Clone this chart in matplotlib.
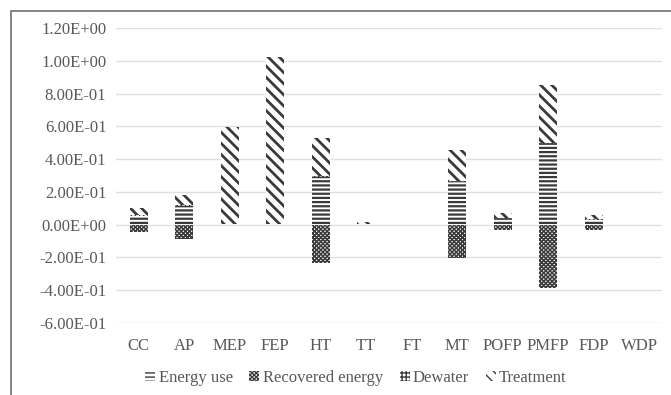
import matplotlib
matplotlib.use('Agg')
import matplotlib.pyplot as plt
import numpy as np
from matplotlib.patches import Rectangle

cats = ['CC', 'AP', 'MEP', 'FEP', 'HT', 'TT', 'FT', 'MT', 'POFP', 'PMFP', 'FDP', 'WDP']
energy_use = [0.055, 0.115, 0.005, 0.003, 0.29, 0.005, 0.002, 0.26, 0.035, 0.495, 0.03, 0.0]
dewater = [0.004, 0.004, 0.001, 0.001, 0.004, 0.001, 0.0, 0.004, 0.004, 0.004, 0.004, 0.0]
treatment = [0.045, 0.06, 0.59, 1.02, 0.235, 0.008, 0.0, 0.19, 0.03, 0.355, 0.025, 0.0]
recovered = [-0.045, -0.085, 0.0, 0.0, -0.235, -0.004, -0.002, -0.205, -0.035, -0.385, -0.03, 0.0]
yticks = [-0.6, -0.4, -0.2, 0.0, 0.2, 0.4, 0.6, 0.8, 1.0, 1.2]

gray = '#595959'
hatch_col = '#3a3a3a'
plt.rcParams['font.family'] = ['Liberation Serif', 'DejaVu Serif']

fig = plt.figure(figsize=(6.71, 3.95), dpi=100)
ax = fig.add_axes([116 / 671, 1 - 323 / 395, 546 / 671, 295 / 395])

x = np.arange(len(cats))
w = 0.4
e = np.array(energy_use)
d = np.array(dewater)


def hbar(bottom, vals, hatch, lw, label):
    with plt.rc_context({'hatch.linewidth': lw}):
        bars = ax.bar(x, vals, w, bottom=bottom, color='white', edgecolor=hatch_col,
                      linewidth=0, hatch=hatch, label=label, zorder=2)
        for b in bars:
            if hasattr(b, 'set_hatch_linewidth'):
                b.set_hatch_linewidth(lw)
    return bars


b1 = hbar(0, energy_use, '----', 1.6, 'Energy use')
b2 = hbar(0, recovered, 'xxxxxxxx', 1.1, 'Recovered energy')
b3 = hbar(e, dewater, '++++', 0.8, 'Dewater')
b4 = hbar(e + d, treatment, '\\\\\\', 2.0, 'Treatment')

ax.set_ylim(-0.6, 1.2)
ax.set_xlim(-0.5, len(cats) - 0.5)
ax.set_yticks(yticks)
ax.set_yticklabels(['%.2E' % v if v != 0 else '0.00E+00' for v in yticks])
ax.set_xticks(x)
ax.set_xticklabels(cats)
ax.tick_params(length=0, labelsize=12, colors=gray, pad=7)
ax.tick_params(axis='x', pad=11)
ax.grid(axis='y', color='#e0e0e0', linewidth=1, zorder=0)
ax.set_axisbelow(True)
for s in ax.spines.values():
    s.set_visible(False)

leg = fig.legend(handles=[b1, b2, b3, b4], loc='center', bbox_to_anchor=(356 / 671, 1 - 378 / 395),
                 ncol=4, frameon=False, fontsize=12, handlelength=0.6, handleheight=0.6,
                 handletextpad=0.2, columnspacing=1.0, labelcolor=gray)

fig.patches.append(Rectangle((11 / 671, -0.1), 1.2, 1.1 - 11 / 395, transform=fig.transFigure,
                             fill=False, edgecolor='#707070', linewidth=1.2))

fig.savefig('out.png', dpi=100)
